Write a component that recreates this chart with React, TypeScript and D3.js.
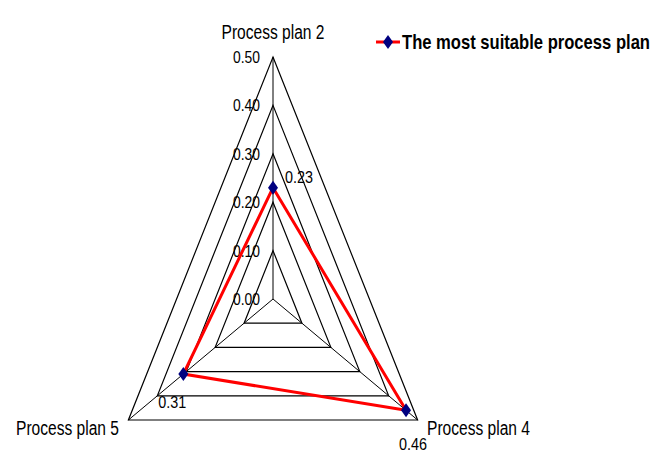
import { useEffect, useRef } from "react";
import * as d3 from "d3";

// radar axes, clockwise from the top
const axes = ["Process plan 2", "Process plan 4", "Process plan 5"];
const values = [0.23, 0.46, 0.31];
const valueLabels = ["0.23", "0.46", "0.31"];
const ticks = [0.0, 0.1, 0.2, 0.3, 0.4, 0.5];
const seriesName = "The most suitable process plan";

const W = 666, H = 452;
const cx = 273, cy = 299;
const sx = 0.69; // the original picture is squeezed horizontally

export default function App() {
  const ref = useRef<SVGSVGElement>(null);

  useEffect(() => {
    const svg = d3.select(ref.current);
    svg.selectAll("*").remove();

    const r = d3.scaleLinear().domain([0, 0.5]).range([0, 242]);
    const angle = (i: number) => -Math.PI / 2 + (i * 2 * Math.PI) / axes.length;
    const pt = (i: number, v: number): [number, number] => [
      cx + r(v) * Math.cos(angle(i)) * sx,
      cy + r(v) * Math.sin(angle(i)),
    ];
    const font = "'Liberation Sans', Arial, sans-serif";

    const grid = svg.append("g");
    ticks.filter((t) => t > 0).forEach((t) => {
      grid.append("path")
        .attr("d", d3.line()(axes.map((_, i) => pt(i, t))) + "Z")
        .attr("fill", "none")
        .attr("stroke", "#000")
        .attr("stroke-width", 1.2);
    });
    axes.forEach((_, i) => {
      const [x, y] = pt(i, 0.5);
      grid.append("line")
        .attr("x1", cx).attr("y1", cy).attr("x2", x).attr("y2", y)
        .attr("stroke", "#000").attr("stroke-width", 1);
    });

    // tick labels along the top axis
    svg.append("g").selectAll("text")
      .data(ticks)
      .join("text")
      .attr("x", cx - 13)
      .attr("y", (d) => cy - r(d) + 6)
      .attr("text-anchor", "end")
      .attr("font-family", font)
      .attr("font-size", 17)
      .attr("textLength", 27)
      .attr("lengthAdjust", "spacingAndGlyphs")
      .text((d) => d3.format(".2f")(d));

    // axis labels
    const labelPos = [
      { x: cx, y: 39, anchor: "middle" },
      { x: 427, y: 435, anchor: "start" },
      { x: 16, y: 435, anchor: "start" },
    ];
    axes.forEach((a, i) => {
      svg.append("text")
        .attr("x", labelPos[i].x)
        .attr("y", labelPos[i].y)
        .attr("text-anchor", labelPos[i].anchor)
        .attr("font-family", font)
        .attr("font-size", 20)
        .attr("textLength", 103)
        .attr("lengthAdjust", "spacingAndGlyphs")
        .text(a);
    });

    // series
    const pts = values.map((v, i) => pt(i, v));
    svg.append("path")
      .attr("d", d3.line()(pts) + "Z")
      .attr("fill", "none")
      .attr("stroke", "#ff0000")
      .attr("stroke-width", 3);

    const diamond = "M0,-7L5,0L0,7L-5,0Z";
    svg.append("g").selectAll("path")
      .data(pts)
      .join("path")
      .attr("transform", (d) => `translate(${d[0]},${d[1]})`)
      .attr("d", diamond)
      .attr("fill", "#000080");

    const valueOffsets = [[12, -5], [-7, 40], [-25, 34]];
    pts.forEach((p, i) => {
      svg.append("text")
        .attr("x", p[0] + valueOffsets[i][0])
        .attr("y", p[1] + valueOffsets[i][1])
        .attr("font-family", font)
        .attr("font-size", 17)
        .attr("textLength", 28)
        .attr("lengthAdjust", "spacingAndGlyphs")
        .text(valueLabels[i]);
    });

    // legend
    const lg = svg.append("g").attr("transform", "translate(376,42)");
    lg.append("line").attr("x1", 0).attr("x2", 24).attr("y1", 0).attr("y2", 0)
      .attr("stroke", "#ff0000").attr("stroke-width", 3);
    lg.append("path").attr("transform", "translate(12,0)").attr("d", diamond).attr("fill", "#000080");
    lg.append("text")
      .attr("x", 26)
      .attr("y", 7)
      .attr("font-family", font)
      .attr("font-size", 21)
      .attr("font-weight", "bold")
      .attr("textLength", 248)
      .attr("lengthAdjust", "spacingAndGlyphs")
      .text(seriesName);
  }, []);

  return (
    <div style={{ position: "absolute", left: 0, top: 0 }}>
      <svg ref={ref} width={W} height={H} style={{ display: "block", background: "#fff" }} />
    </div>
  );
}
